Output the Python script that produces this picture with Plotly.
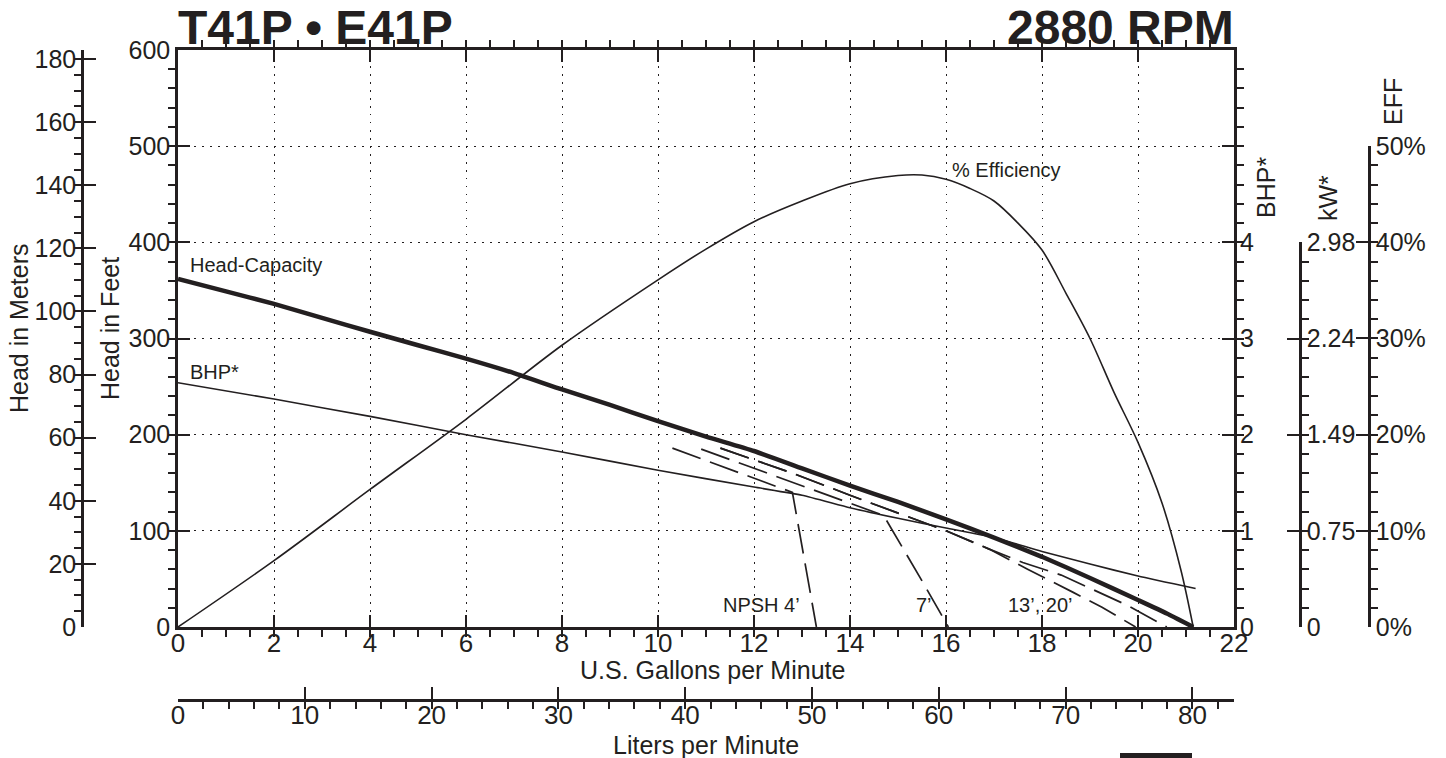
import plotly.graph_objects as go

# ---------------- data ----------------
gpm_head = [0, 1, 2, 3, 4, 5, 6, 7, 8, 9, 10, 11, 12, 13, 14, 15, 16, 17, 18, 19, 20, 20.6, 21.15]
head_ft = [362, 349, 336, 321.5, 307, 293, 279, 264, 247, 231, 214, 198, 183, 165, 147, 130, 112, 93, 73, 51, 28, 14, 0]

gpm_bhp = [0, 2, 4, 6, 8, 10, 12, 13, 14, 15, 16, 17, 18, 19, 20, 21.2]
bhp = [2.54, 2.37, 2.19, 2.00, 1.82, 1.63, 1.455, 1.37, 1.24, 1.13, 1.03, 0.93, 0.785, 0.655, 0.53, 0.40]

gpm_eff = [0, 2, 4, 6, 8, 10, 11, 12, 13, 14, 15, 15.5, 16, 16.5, 17, 17.5, 18, 18.5, 19, 19.5, 20, 20.5, 20.9, 21.15]
eff_pct = [0, 6.9, 14.3, 21.6, 29.3, 36.1, 39.3, 42.15, 44.3, 46.1, 46.95, 47.0, 46.55, 45.6, 44.3, 42.0, 39.2, 34.7, 30.0, 24.4, 19.2, 12.9, 5.8, 0]

npsh4_gpm = [10.3, 11.5, 12.8, 13.3]
npsh4_ft = [186, 164, 140, 0]
npsh7_gpm = [10.9, 12.5, 14.7, 15.5, 16.05]
npsh7_ft = [185, 156, 116, 48, 0]
npsh13_gpm = [11.3, 12.8, 14.0, 15.25, 16.0, 16.9, 17.7, 18.65, 19.25, 19.95]
npsh13_ft = [186, 160, 137, 114, 100, 81, 60, 36, 20.5, 0]
npsh20_gpm = [11.3, 12.8, 14.0, 15.25, 16.0, 16.9, 17.6, 18.4, 19.0, 19.8, 20.6]
npsh20_ft = [186, 160, 137, 114, 100, 81, 67, 54, 40, 22, 0]

bhp_tick_vals = [0, 1, 2, 3, 4]
kw_tick_text = ["0", "0.75", "1.49", "2.24", "2.98"]
eff_tick_vals = [0, 10, 20, 30, 40, 50]

GPM_MAX = 22
FT_MAX = 600
BHP_MAX = 6
EFF_MAX = 60
FT_TO_M = 0.3048
GPM_TO_LPM = 3.78541
HP_TO_KW = 0.7457

# ---------------- layout helpers ----------------
W, H = 1446, 758
PX0, PX1, PY_TOP, PY_BOT = 178, 1234, 50, 627


def fx(p):
    return p / W


def fy(p):
    return 1 - p / H


INK = "#231f20"
REG = "Liberation Sans, Arial, Helvetica, sans-serif"

fig = go.Figure()

# empty traces so that every helper axis is drawn
fig.add_trace(go.Scatter(x=[], y=[], xaxis="x3", yaxis="y", hoverinfo="skip", showlegend=False))
fig.add_trace(go.Scatter(x=[], y=[], xaxis="x", yaxis="y3", hoverinfo="skip", showlegend=False))
fig.add_trace(go.Scatter(x=[], y=[], xaxis="x2", yaxis="y5", hoverinfo="skip", showlegend=False))
fig.add_trace(go.Scatter(x=[], y=[], xaxis="x2", yaxis="y6", hoverinfo="skip", showlegend=False))

dash = "30px,10px"
for gx, gy in [(npsh4_gpm, npsh4_ft), (npsh7_gpm, npsh7_ft), (npsh13_gpm, npsh13_ft), (npsh20_gpm, npsh20_ft)]:
    fig.add_trace(go.Scatter(x=gx, y=gy, mode="lines", xaxis="x", yaxis="y",
                             line=dict(color=INK, width=1.7, dash=dash), showlegend=False))

fig.add_trace(go.Scatter(x=gpm_eff, y=eff_pct, mode="lines", xaxis="x", yaxis="y4",
                         line=dict(color=INK, width=1.6, shape="spline", smoothing=0.9), showlegend=False))
fig.add_trace(go.Scatter(x=gpm_bhp, y=bhp, mode="lines", xaxis="x", yaxis="y2",
                         line=dict(color=INK, width=1.6, shape="spline", smoothing=0.5), showlegend=False))
fig.add_trace(go.Scatter(x=gpm_head, y=head_ft, mode="lines", xaxis="x", yaxis="y",
                         line=dict(color=INK, width=4.5, shape="spline", smoothing=0.5), showlegend=False))

xdom = [fx(PX0), fx(PX1)]
ydom = [fy(PY_BOT), fy(PY_TOP)]
grid = dict(showgrid=True, gridcolor=INK, gridwidth=1.3, griddash="1.5px,6.5px")
tickstyle = dict(ticks="inside", ticklen=12, tickwidth=2, tickcolor=INK,
                 showline=True, linecolor=INK, linewidth=2.5, zeroline=False)
minor_style = dict(ticklen=7, tickwidth=1.5, tickcolor=INK)

px_per_ft = (PY_BOT - PY_TOP) / FT_MAX
y_bhp4 = PY_BOT - 400 * px_per_ft
y_eff50 = PY_BOT - 500 * px_per_ft

fig.update_layout(
    width=W, height=H,
    margin=dict(l=0, r=0, t=0, b=0, pad=0, autoexpand=False),
    paper_bgcolor="white", plot_bgcolor="rgba(0,0,0,0)",
    showlegend=False, hovermode=False,
    font=dict(family=REG, color=INK, size=25),
    xaxis=dict(domain=xdom, range=[0, GPM_MAX], anchor="y", tickmode="linear", tick0=0, dtick=2,
               mirror="ticks", tickfont=dict(family=REG, size=26), ticklabelstandoff=-9,
               minor=dict(dtick=0.5, showgrid=False, **minor_style),
               **tickstyle, **grid),
    yaxis=dict(domain=ydom, range=[0, FT_MAX], anchor="x", tickmode="linear", tick0=0, dtick=100,
               mirror="ticks", tickfont=dict(family=REG, size=25),
               minor=dict(dtick=20, showgrid=False, **minor_style),
               **tickstyle, **grid),
    yaxis2=dict(overlaying="y", side="right", anchor="x", range=[0, BHP_MAX],
                tickmode="array", tickvals=bhp_tick_vals, ticks="", showline=False,
                showgrid=False, zeroline=False, tickfont=dict(family=REG, size=25),
                ticklabelstandoff=5),
    yaxis3=dict(overlaying="y", side="left", anchor="free", position=fx(82),
                range=[0, FT_MAX * FT_TO_M], tickmode="linear", tick0=0, dtick=20,
                minor=dict(dtick=5, **minor_style),
                showgrid=False, tickfont=dict(family=REG, size=25), **tickstyle),
    yaxis4=dict(overlaying="y", range=[0, EFF_MAX], visible=False),
    xaxis2=dict(domain=xdom, range=[0, GPM_MAX], anchor="y5", visible=False),
    yaxis5=dict(domain=[fy(PY_BOT), fy(y_bhp4)], anchor="free", position=fx(1300), side="right",
                range=[0, 4 * HP_TO_KW], tickmode="array",
                tickvals=[v * HP_TO_KW for v in bhp_tick_vals], ticktext=kw_tick_text,
                minor=dict(tickmode="linear", tick0=0, dtick=0.2 * HP_TO_KW, **minor_style),
                showgrid=False, tickfont=dict(family=REG, size=25), **tickstyle),
    yaxis6=dict(domain=[fy(PY_BOT), fy(y_eff50)], anchor="free", position=fx(1369), side="right",
                range=[0, 50], tickmode="array", tickvals=eff_tick_vals,
                ticktext=[f"{v}%" for v in eff_tick_vals],
                minor=dict(tickmode="linear", tick0=0, dtick=2, **minor_style),
                showgrid=False, tickfont=dict(family=REG, size=25), **tickstyle),
    xaxis3=dict(overlaying="x", anchor="free", position=fy(700), side="bottom",
                range=[0, GPM_MAX * GPM_TO_LPM], tickmode="linear", tick0=0, dtick=10,
                minor=dict(dtick=2, **minor_style), ticklabelstandoff=-9,
                showgrid=False, tickfont=dict(family=REG, size=26), **tickstyle),
)

ann = []


def paper_text(text, x, y, size=25, angle=0, xanchor="center", yanchor="middle", bold=False):
    t = f"<b>{text}</b>" if bold else text
    ann.append(dict(text=t, x=fx(x), y=fy(y), xref="paper", yref="paper", showarrow=False,
                    textangle=angle, xanchor=xanchor, yanchor=yanchor,
                    font=dict(family=REG, size=size, color=INK)))


def data_text(text, x, y, xanchor="left", yref="y", size=20):
    ann.append(dict(text=text, x=x, y=y, xref="x", yref=yref, showarrow=False,
                    xanchor=xanchor, yanchor="middle", font=dict(family=REG, size=size, color=INK)))


paper_text("T41P • E41P", 176, 27, size=48, xanchor="left", bold=True)
paper_text("2880 RPM", 1236, 27, size=48, xanchor="right", bold=True)
paper_text("Head in Meters", 19, 328, angle=-90)
paper_text("Head in Feet", 110, 328, angle=-90)
paper_text("U.S. Gallons per Minute", 712, 670, size=25)
paper_text("Liters per Minute", 706, 745, size=25)
paper_text("BHP*", 1266, 188, angle=-90)
paper_text("kW*", 1328, 198, angle=-90)
paper_text("EFF", 1393, 102, angle=-90)

data_text("Head-Capacity", 0.2, 376)
data_text("BHP*", 0.2, 265)
data_text("% Efficiency", 16.08, 475)
data_text("NPSH 4’", 13.0, 23, xanchor="right")
data_text("7’", 15.54, 23, xanchor="center")
data_text("13’, 20’", 17.97, 23, xanchor="center")

fig.update_layout(annotations=ann)

fig.add_shape(type="rect", xref="paper", yref="paper", x0=fx(1120), x1=fx(1192), y0=fy(758), y1=fy(753),
              fillcolor=INK, line=dict(width=0))

fig.write_html("out.html", config={"displayModeBar": False},
               post_script="document.body.style.margin='0';document.body.style.overflow='hidden';")
